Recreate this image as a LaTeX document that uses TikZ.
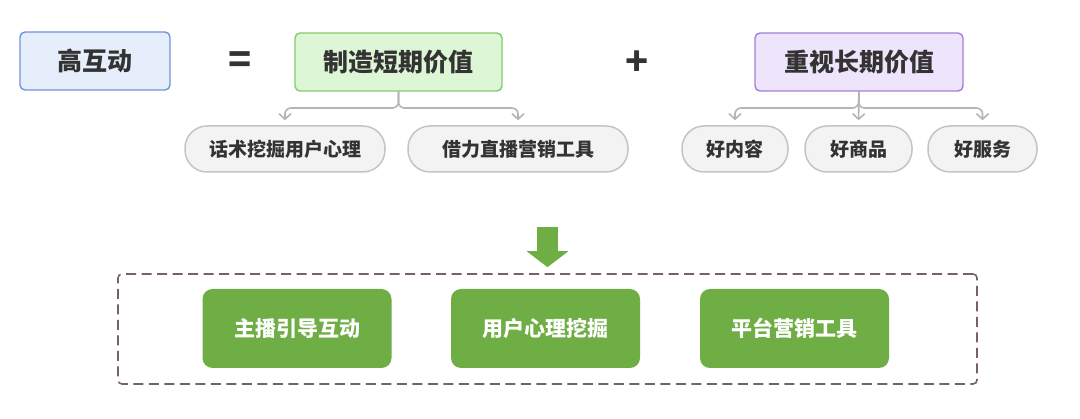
\documentclass[tikz,border=0pt]{standalone}
\usepackage{fontspec}
\newfontfamily\cjk{Noto Sans CJK SC}
\usetikzlibrary{positioning,arrows.meta,calc}
\definecolor{textdark}{HTML}{333333}
\definecolor{topblue}{HTML}{E6EEFC}
\definecolor{topblueline}{HTML}{6F93DA}
\definecolor{topgreen}{HTML}{DDF6D5}
\definecolor{topgreenline}{HTML}{84CB6C}
\definecolor{toppurple}{HTML}{EEE5FC}
\definecolor{toppurpleline}{HTML}{A27ED8}
\definecolor{pillfill}{HTML}{F3F3F3}
\definecolor{pillline}{HTML}{C4C4C4}
\definecolor{connline}{HTML}{B4B4B4}
\definecolor{resgreen}{HTML}{6FAD45}
\definecolor{frameline}{HTML}{76606B}

\begin{document}
\begin{tikzpicture}[
  x=1pt, y=-1pt,
  font=\cjk\bfseries, text=textdark,
  topbox/.style={draw, line width=1.4pt, rounded corners=5pt, minimum height=58pt,
                 inner sep=0pt, font=\cjk\bfseries\fontsize{25}{25}\selectfont},
  pill/.style={draw=pillline, fill=pillfill, line width=1.5pt, rounded corners=22pt,
               minimum height=46pt, inner sep=0pt, font=\cjk\bfseries\fontsize{19}{19}\selectfont},
  resbox/.style={fill=resgreen, rounded corners=10pt, minimum width=189pt, minimum height=79pt,
                 inner sep=0pt, text=white, font=\cjk\bfseries\fontsize{21}{21}\selectfont},
  sign/.style={inner sep=0pt, font=\cjk\bfseries\fontsize{38}{38}\selectfont},
  conn/.style={draw=connline, line width=1.6pt, rounded corners=6pt,
               -{Straight Barb[length=5.5pt,width=12pt]}, shorten >=5pt},
  bigarr/.style={draw=resgreen, line width=21pt, -{Triangle[length=16pt,width=41pt]}},
  node distance=16pt
]
\useasboundingbox (0,0) rectangle (1080,419);
% ----- top row: equation -----
\node[topbox, fill=topblue, draw=topblueline, minimum width=150pt] (high) at (95,61) {高互动};
\node[sign] (eq) at (240,63) {=};
\node[topbox, fill=topgreen, draw=topgreenline, minimum width=207pt] (short) at (398.5,62) {制造短期价值};
\node[sign] (plus) at (637,63) {+};
\node[topbox, fill=toppurple, draw=toppurpleline, minimum width=208pt] (long) at (859,62) {重视长期价值};
% ----- short-term branches -----
\node[pill, minimum width=200pt] (talk) at (285,149) {话术挖掘用户心理};
\node[pill, minimum width=220pt] (tools) at (518,149) {借力直播营销工具};
\coordinate (shortfork) at (398.5,108);
\draw[conn] (short.south) -- (shortfork) -| (talk.north);
\draw[conn] (short.south) -- (shortfork) -| (tools.north);
% ----- long-term branches -----
\node[pill, minimum width=106pt] (content) at (735,149) {好内容};
\node[pill, minimum width=107pt] (goods) at (858.5,149) {好商品};
\node[pill, minimum width=109pt] (service) at (982.5,149) {好服务};
\coordinate (longfork) at (858.5,108);
\draw[conn] (long.south) -- (longfork) -| (content.north);
\draw[conn] (long.south) -- (goods.north);
\draw[conn] (long.south) -- (longfork) -| (service.north);
% ----- result frame -----
\node[draw=frameline, line width=1.6pt, dash pattern=on 10pt off 5.5pt, rounded corners=4pt,
      minimum width=859pt, minimum height=110pt, inner sep=0pt] (frame) at (547.5,329) {};
\coordinate (flowtop) at (547.5,227);
\draw[bigarr] (flowtop) -- ([yshift=6pt]frame.north);
\node[resbox] (host) at (297,328.5) {主播引导互动};
\node[resbox] (mind) at (545.5,328.5) {用户心理挖掘};
\node[resbox] (platform) at (794.5,328.5) {平台营销工具};
\end{tikzpicture}
\end{document}
